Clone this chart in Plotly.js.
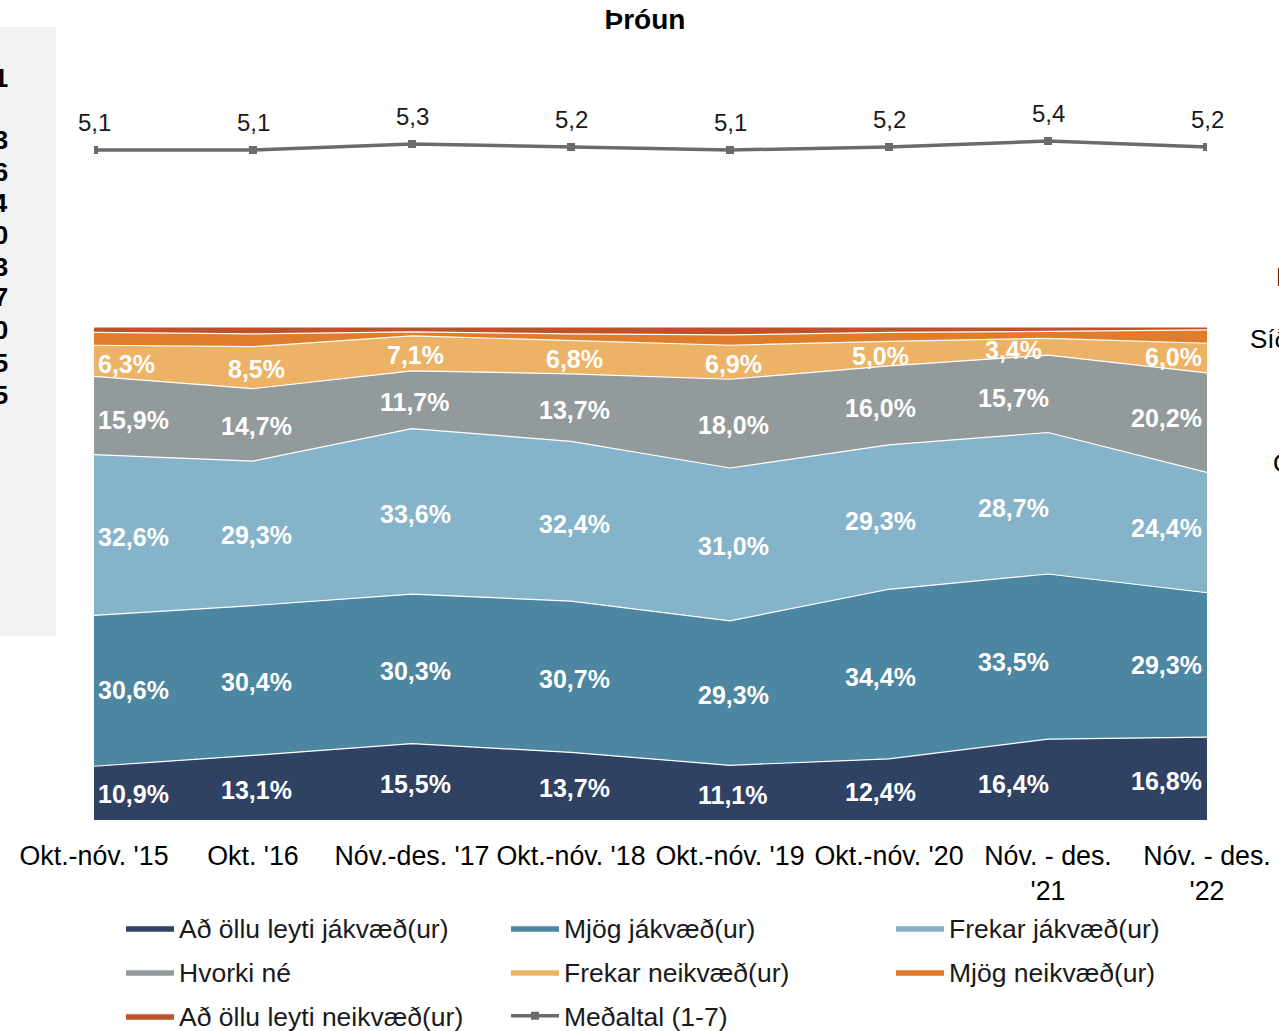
<!DOCTYPE html>
<html>
<head>
<meta charset="utf-8">
<script src="https://cdn.plot.ly/plotly-3.0.1.min.js"></script>
<style>
  html, body { margin: 0; padding: 0; background: #ffffff; }
  #chart { width: 1279px; height: 1031px; }
</style>
</head>
<body>
<div id="chart"></div>
<script>
// ---------------- DATA ----------------
const periods = ["Okt.-nóv. '15", "Okt. '16", "Nóv.-des. '17", "Okt.-nóv. '18", "Okt.-nóv. '19", "Okt.-nóv. '20", "Nóv. - des.<br>'21", "Nóv. - des.<br>'22"];
const seriesNames = ["Að öllu leyti jákvæð(ur)", "Mjög jákvæð(ur)", "Frekar jákvæð(ur)", "Hvorki né", "Frekar neikvæð(ur)", "Mjög neikvæð(ur)", "Að öllu leyti neikvæð(ur)"];
const adOlluJakvaed   = [10.9, 13.1, 15.5, 13.7, 11.1, 12.4, 16.4, 16.8];
const mjogJakvaed     = [30.6, 30.4, 30.3, 30.7, 29.3, 34.4, 33.5, 29.3];
const frekarJakvaed   = [32.6, 29.3, 33.6, 32.4, 31.0, 29.3, 28.7, 24.4];
const hvorkiNe        = [15.9, 14.7, 11.7, 13.7, 18.0, 16.0, 15.7, 20.2];
const frekarNeikvaed  = [6.3, 8.5, 7.1, 6.8, 6.9, 5.0, 3.4, 6.0];
const mjogNeikvaed    = [2.6, 2.6, 0.8, 1.3, 2.1, 1.8, 1.4, 2.7];
const adOlluNeikvaed  = [1.1, 1.4, 1.0, 1.4, 1.6, 1.1, 0.9, 0.6];
const medaltal        = [5.1, 5.1, 5.3, 5.2, 5.1, 5.2, 5.4, 5.2];
const medaltalName    = "Meðaltal (1-7)";
const leftPanelLabels = ["0,1", "0,3", "0,6", "0,4", "0,0", "0,3", "0,7", "1,0", "0,5", "0,5"];
const rightPanelLabels = ["Heildin", "Síðast", "Önnur"];

// ---------------- STYLE ----------------
const FONT = "Liberation Sans, Arial, Helvetica, sans-serif";
const colors = ["#2f4264", "#4d86a0", "#85b4ca", "#939a9b", "#ecb266", "#e07d2a", "#c0502a"];
const lineColor = "#6b6b6b";
const W = 1279, H = 1031;
const M = { l: 94, r: 72, t: 50, b: 211, autoexpand: false };
const PW = W - M.l - M.r, PH = H - M.t - M.b;
const areaTopPx = 327;
const areaDomainTop = (H - M.b - areaTopPx) / PH;
const pxToPaperX = px => (px - M.l) / PW;
const pxToPaperY = py => (H - M.b - py) / PH;

const allSeries = [adOlluJakvaed, mjogJakvaed, frekarJakvaed, hvorkiNe, frekarNeikvaed, mjogNeikvaed, adOlluNeikvaed];
const xs = periods.map((_, i) => i);

const traces = [];
allSeries.forEach((vals, s) => {
  traces.push({
    type: 'scatter', mode: 'lines', x: xs, y: vals, name: seriesNames[s],
    stackgroup: 'one', fillcolor: colors[s],
    line: { color: '#ffffff', width: 1.2 },
    hoverinfo: 'skip', yaxis: 'y',
    legend: s === 0 ? 'legend' : 'legend' + (s + 1)
  });
});
traces.push({
  type: 'scatter', mode: 'lines+markers', x: xs, y: medaltal, name: medaltalName,
  line: { color: lineColor, width: 3.5 },
  marker: { symbol: 'square', size: 8, color: lineColor },
  yaxis: 'y2', hoverinfo: 'skip', legend: 'legend8'
});

// cumulative stacks for label placement
const cum = [];
allSeries.forEach((vals, s) => {
  cum.push(vals.map((v, i) => (s === 0 ? 0 : cum[s - 1][i] + allSeries[s - 1][i])));
});
function interp(arr, fx) {
  const i0 = Math.max(0, Math.min(arr.length - 2, Math.floor(fx)));
  const t = fx - i0;
  return arr[i0] * (1 - t) + arr[i0 + 1] * t;
}
const pxPerUnit = PW / (xs.length - 1);
const labelShiftPx = [null, 3, 3, 3, 3, -9, -35, null];
const fmt = v => v.toFixed(1).replace('.', ',');

const annotations = [];
for (let s = 0; s < 5; s++) {
  const vals = allSeries[s];
  vals.forEach((v, i) => {
    let xanchor = 'center', xshift = 0, centerPx;
    if (i === 0) { xanchor = 'left'; xshift = 2; centerPx = 36; }
    else if (i === xs.length - 1) { xanchor = 'right'; xshift = -3; centerPx = -38; }
    else { xshift = labelShiftPx[i]; centerPx = xshift; }
    const fx = Math.max(0, Math.min(xs.length - 1, i + centerPx / pxPerUnit));
    const bottom = interp(cum[s], fx);
    const top = bottom + interp(vals, fx);
    annotations.push({
      x: i, y: (bottom + top) / 2, xref: 'x', yref: 'y',
      text: '<b>' + fmt(v) + '%</b>', showarrow: false,
      xanchor: xanchor, yanchor: 'middle', xshift: xshift, yshift: -2,
      font: { family: FONT, size: 25, color: '#ffffff' }
    });
  });
}
medaltal.forEach((v, i) => {
  annotations.push({
    x: i, y: v, xref: 'x', yref: 'y2', text: fmt(v), showarrow: false,
    xanchor: 'center', yanchor: 'middle', yshift: 28,
    font: { family: FONT, size: 24, color: '#1a1a1a' }
  });
});
const leftYs = [78, 140, 172, 203, 235, 267, 297, 330, 363, 395];
leftPanelLabels.forEach((t, k) => {
  annotations.push({
    x: pxToPaperX(10), y: pxToPaperY(leftYs[k]), xref: 'paper', yref: 'paper',
    text: '<b>' + t + '</b>', showarrow: false, xanchor: 'right', yanchor: 'middle',
    font: { family: FONT, size: 26, color: '#000000' }
  });
});
const rightPos = [[1274, 277], [1248, 339], [1271, 463]];
rightPanelLabels.forEach((t, k) => {
  annotations.push({
    x: pxToPaperX(rightPos[k][0]), y: pxToPaperY(rightPos[k][1]), xref: 'paper', yref: 'paper',
    text: t, showarrow: false, xanchor: 'left', yanchor: 'middle',
    font: { family: FONT, size: 26, color: '#000000' }
  });
});

// legends: one per entry, laid out in a 3-column grid
const legendCols = [121, 506, 891];
const legendRows = [928, 972, 1016];
const layout = {
  width: W, height: H, margin: M,
  paper_bgcolor: '#ffffff', plot_bgcolor: 'rgba(0,0,0,0)',
  font: { family: FONT, color: '#000000' },
  title: {
    text: '<b>Þróun</b>', font: { family: FONT, size: 28, color: '#000000' },
    x: 645 / W, xanchor: 'center', xref: 'container',
    y: 1 - 19 / H, yanchor: 'middle', yref: 'container'
  },
  showlegend: true,
  xaxis: {
    range: [0, xs.length - 1], tickmode: 'array', tickvals: xs, ticktext: periods,
    showgrid: false, zeroline: false, showline: false, automargin: false,
    ticks: 'outside', ticklen: 12, tickcolor: 'rgba(0,0,0,0)',
    tickfont: { family: FONT, size: 26.8, color: '#000000' }
  },
  yaxis: { domain: [0, areaDomainTop], range: [0, 100], visible: false, fixedrange: true },
  yaxis2: { domain: [0.8, 0.9], range: [3.3, 3.3 + 77 / 30], visible: false, anchor: 'x' },
  shapes: [{
    type: 'rect', xref: 'paper', yref: 'paper', layer: 'below',
    x0: pxToPaperX(0), x1: pxToPaperX(56), y0: pxToPaperY(636), y1: pxToPaperY(27),
    fillcolor: '#f2f2f2', line: { width: 0 }
  }],
  annotations: annotations
};
for (let k = 0; k < 8; k++) {
  const key = k === 0 ? 'legend' : 'legend' + (k + 1);
  layout[key] = {
    x: pxToPaperX(legendCols[k % 3]), y: pxToPaperY(legendRows[Math.floor(k / 3)]),
    xanchor: 'left', yanchor: 'middle', orientation: 'h',
    bgcolor: 'rgba(0,0,0,0)', borderwidth: 0, itemwidth: 48,
    font: { family: FONT, size: 26.5, color: '#1a1a1a' }
  };
}

Plotly.newPlot('chart', traces, layout, { displayModeBar: false, staticPlot: true });
</script>
</body>
</html>
